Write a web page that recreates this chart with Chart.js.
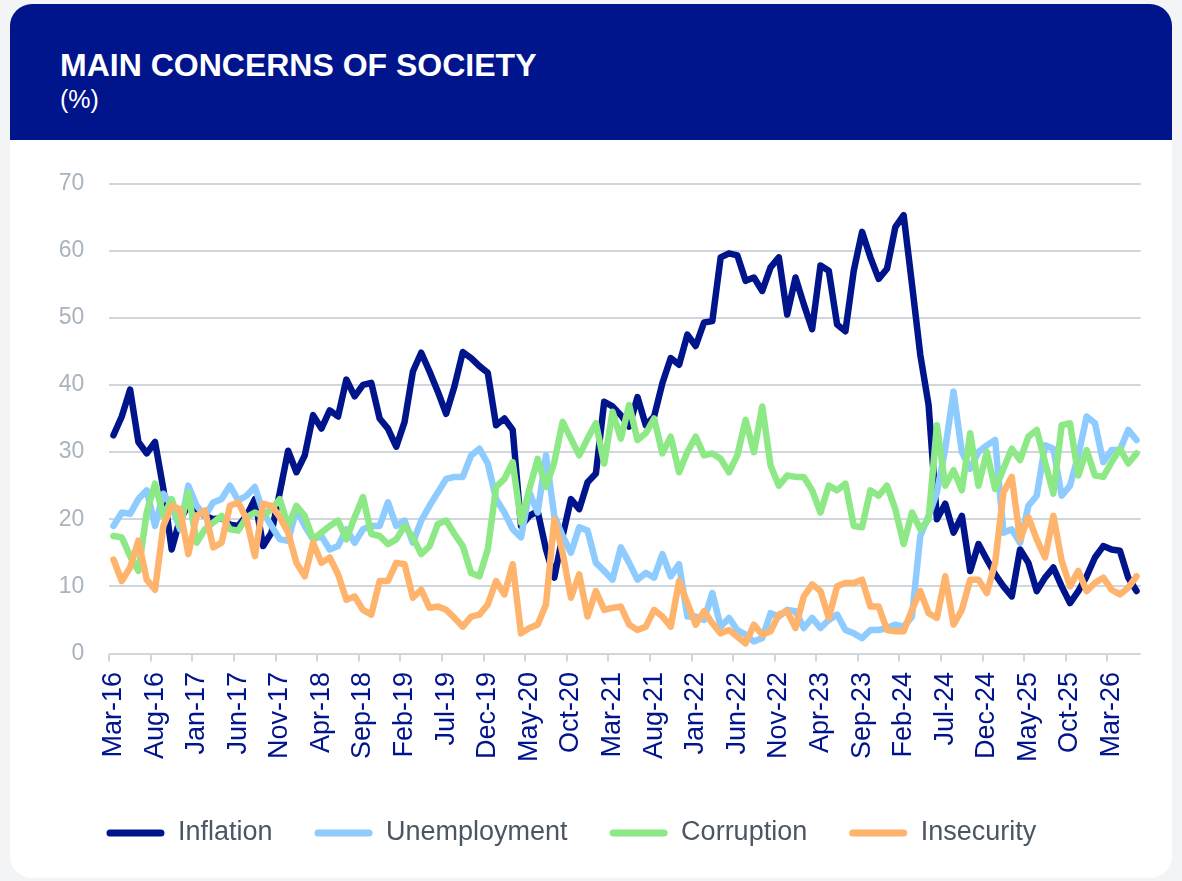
<!DOCTYPE html>
<html>
<head>
<meta charset="utf-8">
<title>Main concerns of society</title>
<script src="https://cdn.jsdelivr.net/npm/chart.js@4.4.1/dist/chart.umd.min.js"></script>
<style>
  html, body { margin: 0; padding: 0; }
  body { width: 1182px; height: 881px; position: relative; overflow: hidden; background: #f2f4f6; font-family: "Liberation Sans", Arial, sans-serif; }
  .card { position: absolute; left: 10px; top: 4px; width: 1162px; height: 874px; background: #fff; border-radius: 22px; overflow: hidden; }
  .head { position: absolute; left: 0; top: 0; width: 100%; height: 136px; background: #00148c; }
  .head h1 { position: absolute; left: 50px; top: 44.5px; margin: 0; font-size: 32px; line-height: 1; font-weight: bold; color: #fff; }
  .head .unit { position: absolute; left: 50px; top: 82.5px; font-size: 25px; line-height: 1; color: #fff; }
  .wrap { position: absolute; left: 2px; top: 140px; width: 1179px; height: 735px; }
</style>
</head>
<body>
<div class="card">
  <div class="head">
    <h1>MAIN CONCERNS OF SOCIETY</h1>
    <div class="unit">(%)</div>
  </div>
</div>
<div class="wrap"><canvas id="concernsChart"></canvas></div>
<script>
// monthly survey, Mar-16 .. Jun-26
const monthNames = ["Jan", "Feb", "Mar", "Apr", "May", "Jun", "Jul", "Aug", "Sep", "Oct", "Nov", "Dec"];
const months = [];
for (let k = 0; k < 124; k++) {
  months.push(monthNames[(2 + k) % 12] + "-" + (16 + Math.floor((2 + k) / 12)));
}

const inflation = [32.5, 35.3, 39.3, 31.5, 29.8, 31.5, 24.5, 15.5, 20, 22,
  21.5, 20.5, 20, 20.2, 19.2, 19, 20.5, 23, 16, 18,
  24, 30.2, 27, 29.5, 35.5, 33.5, 36.2, 35.3, 40.8, 38.3,
  40, 40.3, 35, 33.5, 30.8, 34.5, 42, 44.8, 42, 39,
  35.7, 39.8, 44.9, 44, 42.8, 41.8, 34, 35, 33.3, 19,
  20.5, 21.2, 15.5, 11.3, 17.5, 23, 21.5, 25.5, 26.8, 37.5,
  36.8, 35.5, 33.8, 38.2, 34, 35.3, 40.3, 44, 43, 47.5,
  45.8, 49.3, 49.5, 59, 59.6, 59.3, 55.5, 56, 54, 57.5,
  59, 50.5, 56, 52, 48.3, 57.8, 57, 49, 48, 57,
  62.8, 59, 55.8, 57.3, 63.5, 65.3, 55, 44.5, 37, 20,
  22.3, 18, 20.5, 12.3, 16.3, 14, 11.8, 10, 8.5, 15.5,
  13.5, 9.3, 11.3, 12.8, 10, 7.5, 9.3, 11.5, 14.3, 16,
  15.5, 15.3, 11.3, 9.3];

const unemployment = [19, 21, 20.8, 23, 24.3, 19, 23.8, 22, 18.5, 25,
  22, 20.5, 22.5, 23, 25, 22.8, 23.5, 24.8, 21, 19,
  17, 16.8, 21.5, 19, 17, 17.5, 15.5, 16, 18.5, 16.5,
  18.5, 19, 19, 22.5, 19, 19.8, 16.5, 19.8, 22, 24,
  26, 26.3, 26.3, 29.5, 30.5, 28.3, 23, 21, 18.5, 17.3,
  24, 21, 29.5, 20.5, 17.5, 15, 18.8, 18.3, 13.5, 12.3,
  11, 15.8, 13.5, 11, 12, 11.3, 14.8, 11.5, 13.3, 5.5,
  5.5, 5, 9, 4, 5.3, 3.5, 2.8, 1.8, 2.3, 6,
  5.5, 6.5, 6.3, 3.8, 5.3, 3.8, 5, 5.8, 3.5, 3,
  2.3, 3.5, 3.5, 3.8, 4.3, 4, 5.5, 17.5, 20.5, 24,
  30.5, 39, 30, 27.5, 30, 31, 31.8, 18, 18.5, 16.5,
  22, 23.5, 31, 30.5, 23.5, 25, 29.5, 35.3, 34.3, 28.5,
  30.3, 30.3, 33.3, 31.8];

const corruption = [17.5, 17.3, 14.5, 12.3, 21, 25.3, 20.5, 23, 19, 24,
  16.5, 18.5, 19.5, 20.5, 18.5, 18.3, 20.3, 21, 20.5, 21.5,
  23, 19, 22, 20.5, 17, 18, 19, 19.8, 17, 20.3,
  23.3, 17.8, 17.5, 16.3, 17, 19, 17.3, 14.8, 16, 19.3,
  19.8, 17.8, 16, 12, 11.5, 15.5, 24.8, 26, 28.5, 19.5,
  24.5, 29, 24.8, 28.5, 34.5, 32, 29.5, 32, 34.3, 28.3,
  36, 32, 37, 31.8, 32.8, 35, 29.8, 32.3, 27, 30,
  32.3, 29.5, 29.8, 29, 27, 29.5, 34.8, 30, 36.8, 28,
  25, 26.5, 26.3, 26.3, 24.3, 21, 25, 24.3, 25.3, 19,
  18.8, 24.3, 23.5, 25, 21.5, 16.3, 21, 18.5, 20, 34,
  25, 27.3, 24.3, 32.8, 25, 30, 24.5, 27.5, 30.5, 28.8,
  32.3, 33.3, 28.5, 23.8, 34, 34.3, 26.5, 30.3, 26.5, 26.3,
  28.5, 30.5, 28.3, 29.8];

const insecurity = [14, 10.8, 12.8, 16.8, 11, 9.5, 19, 22, 21.5, 14.8,
  20.5, 21.3, 15.8, 16.5, 22, 22.5, 20, 14.5, 22.3, 22,
  20.3, 18, 13.5, 11.5, 16.5, 13.5, 14.3, 11.8, 8, 8.5,
  6.5, 5.8, 10.8, 10.8, 13.5, 13.3, 8.3, 9.5, 6.8, 7,
  6.5, 5.3, 4, 5.5, 5.8, 7.3, 10.8, 8.8, 13.3, 3,
  3.8, 4.3, 7.3, 20, 15, 8.3, 11.8, 5.5, 9.3, 6.5,
  6.8, 7, 4.3, 3.5, 4, 6.5, 5.5, 4, 10.8, 7.5,
  4.3, 6.3, 4.5, 3, 3.5, 2.5, 1.5, 4.3, 2.8, 3.3,
  5.8, 6.3, 3.8, 8.5, 10.3, 9.3, 5.3, 10, 10.5, 10.5,
  11, 7, 7, 3.5, 3.3, 3.3, 6.5, 9.3, 6, 5.3,
  11.5, 4.3, 6.5, 11, 11, 9, 13.5, 24, 26.3, 17,
  20.3, 17, 14.3, 20.5, 13.8, 10, 12.3, 9.3, 10.5, 11.3,
  9.5, 8.8, 9.8, 11.5];

const yTicks = [0, 10, 20, 30, 40, 50, 60, 70];
const labelEvery = 5;

const gridColor = "#d1d6dd";
const navy = "#00148c";

function series(label, data, color, order) {
  return {
    label, data, order,
    borderColor: color,
    backgroundColor: color,
    borderWidth: 6.5,
    borderJoinStyle: "round",
    borderCapStyle: "round",
    pointRadius: 0,
    tension: 0
  };
}

new Chart(document.getElementById("concernsChart"), {
  type: "line",
  data: {
    labels: months,
    datasets: [
      series("Inflation", inflation, navy, 4),
      series("Unemployment", unemployment, "#8ecbff", 3),
      series("Corruption", corruption, "#8de886", 2),
      series("Insecurity", insecurity, "#ffb46e", 1)
    ]
  },
  options: {
    responsive: true,
    maintainAspectRatio: false,
    animation: false,
    events: [],
    layout: { padding: { top: 43.5, right: 40.3, bottom: 18.5, left: 0 } },
    plugins: {
      tooltip: { enabled: false },
      legend: {
        position: "bottom",
        labels: {
          color: "#4b5563",
          font: { family: "Liberation Sans", size: 27 },
          boxWidth: 58,
          boxHeight: 7,
          padding: 42,
          sort: (a, b) => a.datasetIndex - b.datasetIndex,
          generateLabels: (chart) =>
            Chart.defaults.plugins.legend.labels.generateLabels(chart).map((item) => ({
              ...item,
              fillStyle: item.strokeStyle,
              lineWidth: 0,
              borderRadius: 3.5
            }))
        }
      }
    },
    scales: {
      x: {
        offset: true,
        border: { display: false },
        grid: {
          offset: true,
          drawOnChartArea: false,
          drawTicks: true,
          tickLength: 8,
          lineWidth: 2,
          color: (ctx) => (ctx.index % labelEvery === 0 && ctx.index < months.length ? gridColor : "rgba(0,0,0,0)")
        },
        ticks: {
          autoSkip: false,
          minRotation: 90,
          maxRotation: 90,
          padding: 10.5,
          color: navy,
          font: { family: "Liberation Sans", size: 27 },
          callback: (value, index) => (index % labelEvery === 0 ? months[index] : "")
        },
        afterFit: (scale) => { scale.height = 124; }
      },
      y: {
        min: 0,
        max: 70,
        border: { display: false },
        grid: { color: gridColor, lineWidth: 2, drawTicks: false },
        afterBuildTicks: (scale) => { scale.ticks = yTicks.map((v) => ({ value: v })); },
        ticks: {
          padding: 25,
          color: "#a9b3be",
          font: { family: "Liberation Sans", size: 23 }
        },
        afterFit: (scale) => { scale.width = 107.3; }
      }
    }
  }
});
</script>
</body>
</html>
